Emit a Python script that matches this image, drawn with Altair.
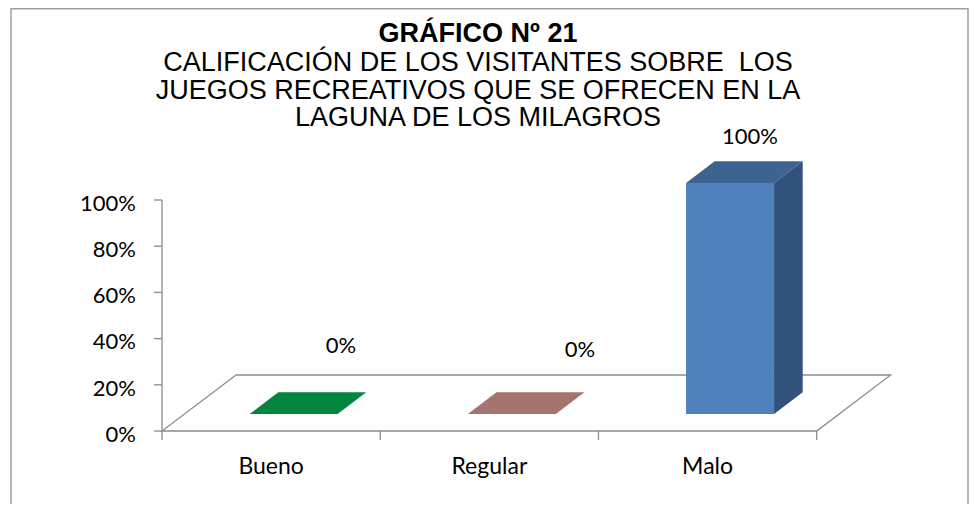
import altair as alt
import pandas as pd

# ---------------- data ----------------
categories = ["Bueno", "Regular", "Malo"]
values = [0, 0, 100]
value_labels = ["0%", "0%", "100%"]
y_ticks = [0, 20, 40, 60, 80, 100]
y_tick_labels = ["0%", "20%", "40%", "60%", "80%", "100%"]
title_text = "GRÁFICO Nº 21"
subtitle_lines = [
    "CALIFICACIÓN DE LOS VISITANTES SOBRE\u00a0 LOS",
    "JUEGOS RECREATIVOS QUE SE OFRECEN EN LA",
    "LAGUNA DE LOS MILAGROS",
]

# ---------------- style ----------------
front_colors = ["#00A04B", "#C08A85", "#4F81BD"]
top_colors = ["#02853E", "#A6746F", "#3D6391"]
side_colors = ["#016B32", "#8A5F5B", "#32527B"]
GREY = "#8c8c8c"
BORDER = "#a0a0a0"
TITLE_FONT = "Liberation Sans"
LABEL_FONT = "Lato"

# label nudges (category units, percent units) relative to bar centre / value
label_nudge_u = [0.320, 0.415, 0.194]
label_nudge_v = [33.9, 31.9, 24.2]

# ---------------- layout ----------------
W, H = 961, 496
X0_PX, PX_PER_U = 154.0, 218.23
Y0_PX, PX_PER_V = 423.0, 2.31
x_domain = [-X0_PX / PX_PER_U, (W - X0_PX) / PX_PER_U]
y_domain = [-(H - Y0_PX) / PX_PER_V, Y0_PX / PX_PER_V]
DEPTH_U = 74.0 / PX_PER_U
DEPTH_V = 56.0 / PX_PER_V
BAR_HALF = 44.0 / PX_PER_U
Z_FRONT, Z_BACK = 0.3036, 0.691
XTICK_V = 9.0 / PX_PER_V
YTICK_U = 8.0 / PX_PER_U
YLABEL_U = 26.0 / PX_PER_U        # gap from axis to right edge of tick labels
YLABEL_DV = 10.7 / PX_PER_V       # baseline below tick
XLABEL_V = 43.3 / PX_PER_V        # category label baseline below floor

xs = alt.Scale(domain=x_domain, nice=False, zero=False)
ys = alt.Scale(domain=y_domain, nice=False, zero=False)
n = len(categories)

# ---------------- derived tables ----------------
floor_df = pd.DataFrame({
    "v": [0.0, DEPTH_V],
    "xl": [0.0, DEPTH_U],
    "xr": [float(n), n + DEPTH_U],
})

top_rows, side_rows, front_rows, label_rows = [], [], [], []
for i, (cat, val) in enumerate(zip(categories, values)):
    c = i + 0.5
    for z in (Z_FRONT, Z_BACK):
        top_rows.append({
            "cat": cat, "color": top_colors[i],
            "v": val + z * DEPTH_V,
            "xl": c - BAR_HALF + z * DEPTH_U,
            "xr": c + BAR_HALF + z * DEPTH_U,
        })
        side_rows.append({
            "cat": cat, "color": side_colors[i],
            "x": c + BAR_HALF + z * DEPTH_U,
            "lo": z * DEPTH_V,
            "hi": val + z * DEPTH_V,
        })
    front_rows.append({
        "cat": cat, "color": front_colors[i],
        "x1": c - BAR_HALF + Z_FRONT * DEPTH_U,
        "x2": c + BAR_HALF + Z_FRONT * DEPTH_U,
        "y1": Z_FRONT * DEPTH_V,
        "y2": val + Z_FRONT * DEPTH_V,
    })
    label_rows.append({
        "label": value_labels[i],
        "u": c + label_nudge_u[i],
        "v": val + label_nudge_v[i],
    })

top_df = pd.DataFrame(top_rows)
side_df = pd.DataFrame(side_rows)
front_df = pd.DataFrame(front_rows)
label_df = pd.DataFrame(label_rows)
xtick_df = pd.DataFrame({"u": [float(k) for k in range(n + 1)], "v0": 0.0, "v1": -XTICK_V})
xlab_df = pd.DataFrame({"u": [i + 0.5 for i in range(n)], "v": -XLABEL_V, "label": categories})
ytick_df = pd.DataFrame({"v": [float(t) for t in y_ticks], "u0": 0.0, "u1": -YTICK_U})
ylab_df = pd.DataFrame({"v": [t - YLABEL_DV for t in y_ticks], "u": -YLABEL_U, "label": y_tick_labels})
yline_df = pd.DataFrame({"u": [0.0], "v0": [float(y_ticks[0])], "v1": [float(y_ticks[-1])]})

X = lambda f: alt.X(f, scale=xs, axis=None)
Y = lambda f: alt.Y(f, scale=ys, axis=None)

# ---------------- layers ----------------
floor = alt.Chart(floor_df).mark_area(
    orient="horizontal", fill="white", stroke=GREY, strokeWidth=1.3
).encode(
    y=Y("v:Q"),
    x=alt.X("xl:Q", scale=xs, axis=None, stack=None),
    x2="xr:Q",
)

yline = alt.Chart(yline_df).mark_rule(color=GREY, strokeWidth=1.3).encode(
    x=X("u:Q"), y=Y("v0:Q"), y2="v1:Q")

yticks = alt.Chart(ytick_df).mark_rule(color=GREY, strokeWidth=1.3).encode(
    x=X("u0:Q"), x2="u1:Q", y=Y("v:Q"))

xticks = alt.Chart(xtick_df).mark_rule(color=GREY, strokeWidth=1.3).encode(
    x=X("u:Q"), y=Y("v0:Q"), y2="v1:Q")

ylabels = alt.Chart(ylab_df).mark_text(
    font=LABEL_FONT, fontSize=22, color="black", align="right", baseline="alphabetic"
).encode(x=X("u:Q"), y=Y("v:Q"), text="label:N")

xlabels = alt.Chart(xlab_df).mark_text(
    font=LABEL_FONT, fontSize=23, color="black", align="center", baseline="alphabetic"
).encode(x=X("u:Q"), y=Y("v:Q"), text="label:N")

tops = alt.Chart(top_df).mark_area(orient="horizontal").encode(
    y=Y("v:Q"),
    x=alt.X("xl:Q", scale=xs, axis=None, stack=None),
    x2="xr:Q",
    color=alt.Color("color:N", scale=None),
    detail="cat:N",
)

sides = alt.Chart(side_df).mark_area(orient="vertical").encode(
    x=X("x:Q"),
    y=alt.Y("hi:Q", scale=ys, axis=None, stack=None),
    y2="lo:Q",
    color=alt.Color("color:N", scale=None),
    detail="cat:N",
)

fronts = alt.Chart(front_df).mark_rect().encode(
    x=X("x1:Q"), x2="x2:Q", y=Y("y1:Q"), y2="y2:Q",
    color=alt.Color("color:N", scale=None),
)

labels = alt.Chart(label_df).mark_text(
    font=LABEL_FONT, fontSize=22, color="black", align="center", baseline="alphabetic"
).encode(x=X("u:Q"), y=Y("v:Q"), text="label:N")

one = alt.Data(values=[{}])
TITLE_X = 470
title_layers = [
    alt.Chart(one).mark_text(
        text=title_text, font=TITLE_FONT, fontSize=27, fontWeight="bold",
        color="black", align="center", baseline="alphabetic",
    ).encode(x=alt.value(TITLE_X), y=alt.value(33.8))
]
for line, yb in zip(subtitle_lines, [63.2, 90.8, 118.2]):
    title_layers.append(
        alt.Chart(one).mark_text(
            text=line, font=TITLE_FONT, fontSize=27, color="black",
            align="center", baseline="alphabetic",
        ).encode(x=alt.value(TITLE_X), y=alt.value(yb))
    )

border_layers = [
    alt.Chart(one).mark_rule(color=BORDER, strokeWidth=1.5).encode(
        x=alt.value(3), y=alt.value(0), y2=alt.value(H)),
    alt.Chart(one).mark_rule(color=BORDER, strokeWidth=1.5).encode(
        x=alt.value(3), x2=alt.value(W - 1), y=alt.value(0.75)),
    alt.Chart(one).mark_rule(color=BORDER, strokeWidth=1.5).encode(
        x=alt.value(W - 1), y=alt.value(0), y2=alt.value(H)),
]

chart = alt.layer(
    floor, yline, yticks, xticks, tops, sides, fronts,
    ylabels, xlabels, labels, *title_layers, *border_layers
).properties(
    width=W, height=H, padding=0,
    autosize=alt.AutoSizeParams(type="none"),
    background="white",
).configure_view(stroke=None)

chart.save("out.html", embed_options={"renderer": "svg", "actions": False})
